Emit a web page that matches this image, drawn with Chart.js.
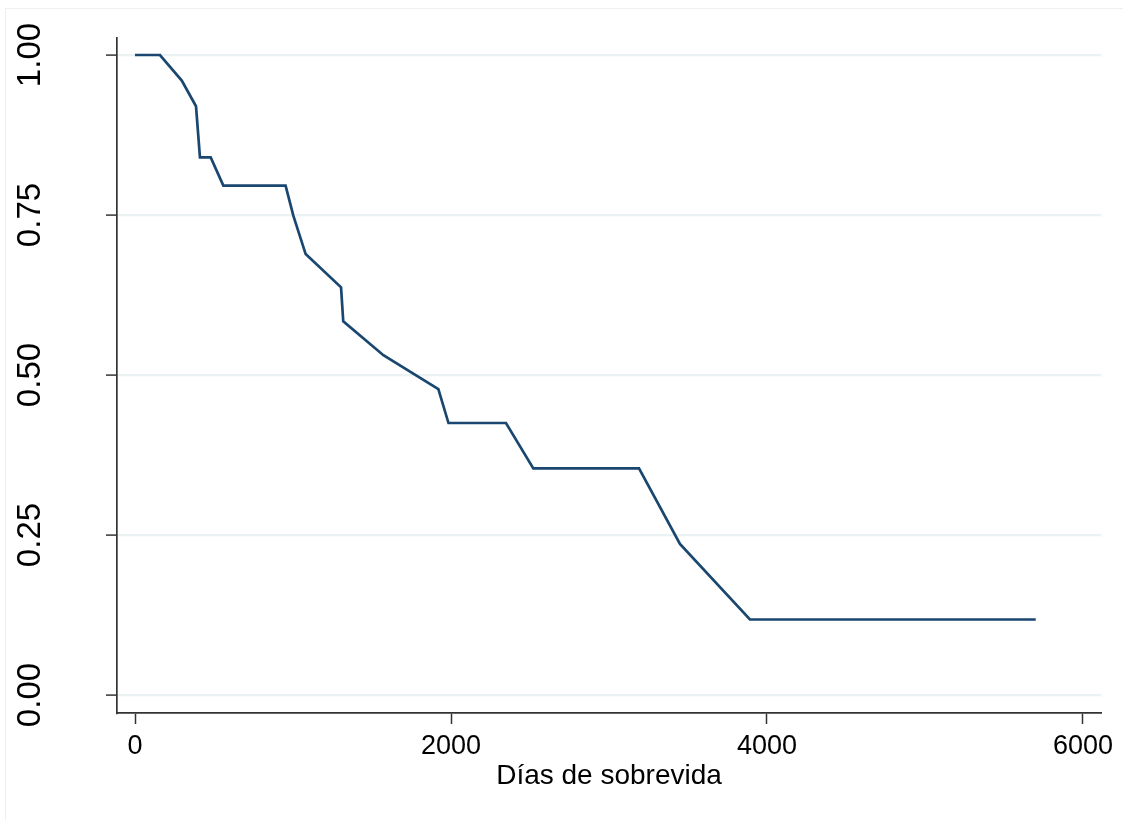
<!DOCTYPE html>
<html>
<head>
<meta charset="utf-8">
<script src="https://cdn.jsdelivr.net/npm/chart.js@4/dist/chart.umd.min.js"></script>
<style>
  body { margin: 0; background: #fff; }
  canvas { display: block; }
</style>
</head>
<body>
<canvas id="myChart" width="1123" height="821"></canvas>
<script>
// Kaplan-Meier style curve
var dias = [0, 158, 296, 386, 411, 479, 559, 953, 1002, 1080, 1304, 1318, 1572, 1920, 1984, 2348, 2521, 3190, 3449, 3892, 5701];
var sobrevida = [1.000, 1.000, 0.960, 0.920, 0.840, 0.840, 0.796, 0.796, 0.749, 0.689, 0.637, 0.584, 0.531, 0.478, 0.425, 0.425, 0.354, 0.354, 0.236, 0.118, 0.118];
var xTicks = [0, 2000, 4000, 6000];
var xTickLabels = ["0", "2000", "4000", "6000"];
var yTicks = [0, 0.25, 0.5, 0.75, 1];
var yTickLabels = ["0.00", "0.25", "0.50", "0.75", "1.00"];
var xTitle = "Días de sobrevida";

var puntos = dias.map(function(d, i){ return {x: d, y: sobrevida[i]}; });

// faint outer frame of the graph region
var marco = {
  id: "marco",
  beforeDraw: function(chart){
    var c = chart.ctx;
    c.save();
    c.fillStyle = "#fff";
    c.fillRect(0, 0, chart.width, chart.height);
    c.strokeStyle = "#eef0f0";
    c.lineWidth = 1;
    c.strokeRect(5.5, 8.5, chart.width, chart.height);
    c.restore();
  }
};

var fuente = "'Liberation Sans', Arial, sans-serif";

var ctx = document.querySelector("#myChart").getContext("2d");
new Chart(ctx, {
  type: "line",
  data: {
    datasets: [{
      data: puntos,
      borderColor: "#1a476f",
      borderWidth: 2.7,
      pointRadius: 0,
      tension: 0,
      fill: false
    }]
  },
  options: {
    responsive: false,
    animation: false,
    devicePixelRatio: 1,
    layout: { padding: { top: 38, right: 22, left: 0, bottom: 0 } },
    plugins: { legend: { display: false }, tooltip: { enabled: false } },
    scales: {
      x: {
        type: "linear",
        min: -114,
        max: 6114,
        afterBuildTicks: function(s){ s.ticks = xTicks.map(function(v){ return {value: v}; }); },
        afterFit: function(s){ s.height = 108; },
        border: { display: true, color: "#333", width: 1.7 },
        grid: { drawOnChartArea: false, drawTicks: true, tickLength: 11, tickColor: "#333", tickWidth: 1.5 },
        ticks: {
          color: "#000",
          padding: 6,
          maxRotation: 0,
          font: { family: fuente, size: 27 },
          callback: function(v){
            var i = xTicks.indexOf(v);
            return i >= 0 ? xTickLabels[i] : "";
          }
        },
        title: {
          display: true,
          text: xTitle,
          color: "#000",
          padding: { top: 0, bottom: 28 },
          font: { family: fuente, size: 28 }
        }
      },
      y: {
        type: "linear",
        min: -0.0281,
        max: 1.0266,
        afterBuildTicks: function(s){ s.ticks = yTicks.map(function(v){ return {value: v}; }); },
        afterFit: function(s){ s.width = 117; s.paddingTop = 0; s.paddingBottom = 0; },
        border: { display: true, color: "#333", width: 1.7 },
        grid: { color: "#eaf2f3", lineWidth: 2.2, drawTicks: true, tickLength: 11, tickColor: "#333", tickWidth: 1.5 },
        ticks: {
          color: "#000",
          padding: 43,
          minRotation: 90,
          maxRotation: 90,
          crossAlign: "center",
          font: { family: fuente, size: 33 },
          callback: function(v){
            var i = yTicks.indexOf(v);
            return i >= 0 ? yTickLabels[i] : "";
          }
        }
      }
    }
  },
  plugins: [marco]
});
</script>
</body>
</html>
